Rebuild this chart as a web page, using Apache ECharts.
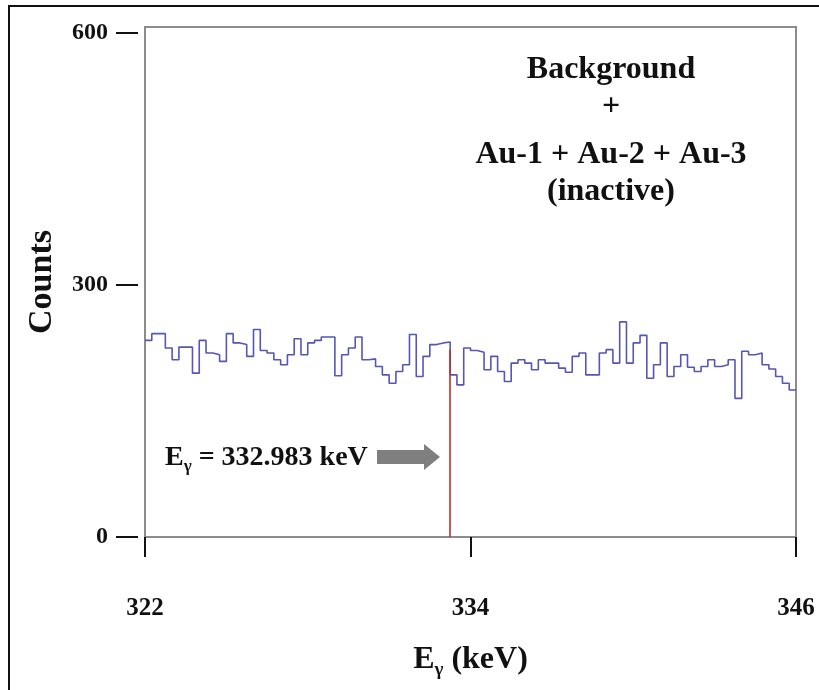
<!DOCTYPE html>
<html>
<head>
<meta charset="utf-8">
<script src="https://cdn.jsdelivr.net/npm/echarts@6/dist/echarts.min.js"></script>
<style>
  html, body { margin: 0; padding: 0; background: #fff; }
  #main { width: 819px; height: 690px; }
</style>
</head>
<body>
<div id="main"></div>
<script>
// spectrum: 0.25 keV bins starting at 322 keV
const binStart = 322;
const binWidth = 0.25;
const counts = [
  234, 242, 242, 225, 211, 226, 226, 195, 234, 219, 217, 209,
  242, 231, 229, 215, 247, 222, 219, 211, 205, 217, 236, 217,
  231, 234, 238, 238, 192, 217, 225, 238, 211, 212, 203, 193,
  183, 197, 205, 241, 191, 215, 229, 231, 232, 193, 181, 225,
  222, 220, 199, 215, 197, 185, 207, 211, 207, 199, 211, 207,
  207, 201, 196, 215, 219, 193, 193, 219, 223, 207, 256, 207,
  231, 240, 189, 205, 231, 191, 203, 217, 202, 197, 203, 211,
  203, 205, 211, 165, 221, 217, 219, 205, 200, 191, 183, 175
];
const xTicks = [322, 334, 346];
const yTicks = [0, 300, 600];
const peakLineX = 333.23;
const peakLineTop = 223;
const titleLines = ['Background', '+', 'Au-1 + Au-2 + Au-3', '(inactive)'];

const FONT = 'Liberation Serif';

const stepData = counts.map((c, i) => [binStart + i * binWidth, c]);
stepData.push([binStart + counts.length * binWidth, counts[counts.length - 1]]);

const chart = echarts.init(document.getElementById('main'));

const titleY = [70, 107, 155, 192];
const titleGraphics = titleLines.map((t, i) => ({
  type: 'text',
  x: 611,
  y: titleY[i],
  style: {
    text: t,
    textAlign: 'center',
    textVerticalAlign: 'middle',
    font: 'bold 32px "' + FONT + '"',
    fill: '#111'
  }
}));

const option = {
  animation: false,
  backgroundColor: '#fff',
  grid: {
    left: 145,
    right: 23,
    top: 27,
    bottom: 153,
    show: true,
    borderColor: '#8c8c8c',
    borderWidth: 2
  },
  xAxis: {
    type: 'value',
    min: 322,
    max: 346,
    offset: 6,
    name: '{e|E}{s|γ}{e| (keV)}',
    nameLocation: 'middle',
    nameGap: 97,
    nameTextStyle: {
      rich: {
        e: { fontFamily: FONT, fontWeight: 'bold', fontSize: 32, color: '#111', lineHeight: 40 },
        s: { fontFamily: FONT, fontWeight: 'bold', fontSize: 19, color: '#111', lineHeight: 19, verticalAlign: 'bottom' }
      }
    },
    axisLine: { show: false },
    axisTick: {
      show: true,
      length: 20,
      customValues: xTicks,
      lineStyle: { color: '#111', width: 2 }
    },
    axisLabel: {
      customValues: xTicks,
      margin: 53,
      fontFamily: FONT,
      fontWeight: 'bold',
      fontSize: 25,
      color: '#111'
    },
    splitLine: { show: false }
  },
  yAxis: {
    type: 'value',
    min: 0,
    max: 607,
    offset: 7,
    name: 'Counts',
    nameLocation: 'middle',
    nameRotate: 90,
    nameGap: 79,
    nameTextStyle: {
      fontFamily: FONT,
      fontWeight: 'bold',
      fontSize: 34,
      color: '#111'
    },
    axisLine: { show: false },
    axisTick: {
      show: true,
      length: 22,
      customValues: yTicks,
      lineStyle: { color: '#111', width: 2 }
    },
    axisLabel: {
      customValues: yTicks,
      margin: 30,
      fontFamily: FONT,
      fontWeight: 'bold',
      fontSize: 24,
      color: '#111'
    },
    splitLine: { show: false }
  },
  series: [
    {
      type: 'line',
      step: 'end',
      data: stepData,
      showSymbol: false,
      lineStyle: { color: '#5656b4', width: 1.6 },
      markLine: {
        silent: true,
        symbol: ['none', 'none'],
        label: { show: false },
        lineStyle: { color: '#b8322c', width: 1.6, type: 'solid' },
        data: [
          [{ coord: [peakLineX, 0] }, { coord: [peakLineX, peakLineTop] }]
        ]
      }
    }
  ],
  graphic: [
    // outer frame (only top and left edges visible)
    {
      type: 'polyline',
      shape: { points: [[9, 690], [9, 6], [819, 6]] },
      style: { stroke: '#111', lineWidth: 2, fill: null }
    },
    ...titleGraphics,
    {
      type: 'text',
      x: 165,
      y: 458,
      style: {
        text: '{e|E}{s|γ}{e| = 332.983 keV}',
        textVerticalAlign: 'middle',
        rich: {
          e: { fontFamily: FONT, fontWeight: 'bold', fontSize: 28, fill: '#111', lineHeight: 34 },
          s: { fontFamily: FONT, fontWeight: 'bold', fontSize: 17, fill: '#111', lineHeight: 17, verticalAlign: 'bottom' }
        }
      }
    },
    {
      type: 'polygon',
      shape: {
        points: [[377, 450], [424, 450], [424, 444], [440, 457], [424, 470], [424, 464], [377, 464]]
      },
      style: { fill: '#7f7f7f' }
    }
  ]
};

chart.setOption(option);
</script>
</body>
</html>
